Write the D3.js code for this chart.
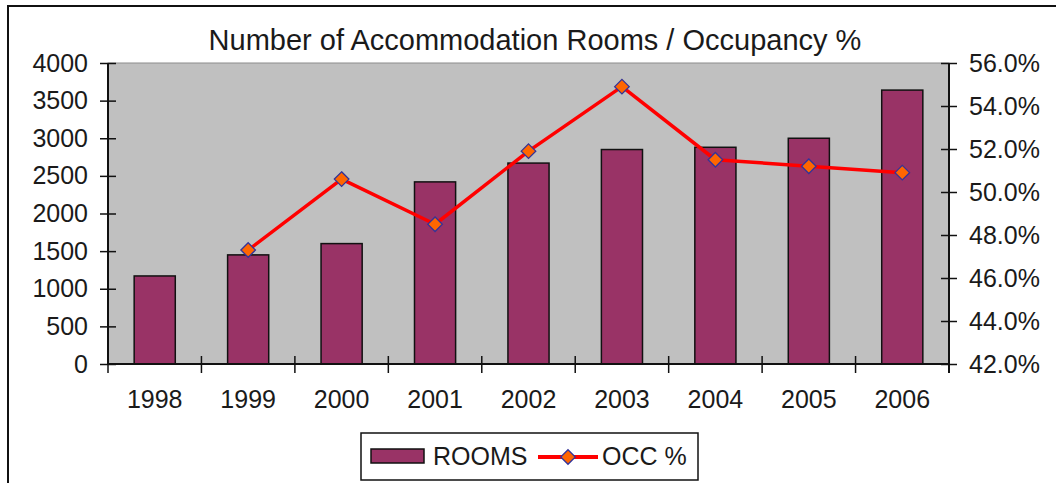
<!DOCTYPE html>
<html>
<head>
<meta charset="utf-8">
<script src="https://cdn.jsdelivr.net/npm/d3@7"></script>
<style>
  body { margin: 0; background: #fff; }
  svg { display: block; font-family: "Liberation Sans", Arial, sans-serif; }
</style>
</head>
<body>
<svg id="chart" width="1056" height="483"></svg>
<script>
// data
var years = ["1998", "1999", "2000", "2001", "2002", "2003", "2004", "2005", "2006"];
var rooms = [1170, 1450, 1600, 2420, 2670, 2850, 2880, 3000, 3640];
var occ = [null, 47.3, 50.6, 48.5, 51.9, 54.9, 51.5, 51.2, 50.9];
var roomTicks = [0, 500, 1000, 1500, 2000, 2500, 3000, 3500, 4000];
var occTicks = [42, 44, 46, 48, 50, 52, 54, 56];

var W = 1056, H = 483;
var plot = { left: 108, right: 949, top: 63, bottom: 364 };

var svg = d3.select('#chart');

// outer chart border (runs off the right/bottom of the picture)
svg.append('rect')
    .attr('x', 8).attr('y', 6)
    .attr('width', W + 10).attr('height', H + 10)
    .style('fill', 'white')
    .style('stroke', '#111')
    .style('stroke-width', 2);

var x = d3.scaleBand()
    .domain(years)
    .range([plot.left, plot.right])
    .paddingInner(0.56)
    .paddingOuter(0.28);

var y = d3.scaleLinear()
    .domain([0, 4000])
    .range([plot.bottom, plot.top]);

var y2 = d3.scaleLinear()
    .domain([42, 56])
    .range([plot.bottom, plot.top]);

// plot area
svg.append('rect')
    .attr('x', plot.left).attr('y', plot.top)
    .attr('width', plot.right - plot.left)
    .attr('height', plot.bottom - plot.top)
    .style('fill', '#c0c0c0')
    .style('stroke', '#8c8c8c')
    .style('stroke-width', 1);

// title
svg.append('text')
    .attr('x', 535).attr('y', 50)
    .attr('text-anchor', 'middle')
    .style('font-size', '29px')
    .style('fill', '#1a1a1a')
    .text('Number of Accommodation Rooms / Occupancy %');

// bars
svg.append('g')
    .selectAll('rect')
    .data(rooms)
    .enter().append('rect')
    .attr('x', (d, i) => x(years[i]))
    .attr('y', d => y(d))
    .attr('width', x.bandwidth())
    .attr('height', d => y(0) - y(d))
    .style('fill', '#993366')
    .style('stroke', '#111')
    .style('stroke-width', 1.5);

// left axis
var leftAxis = svg.append('g')
    .attr('transform', 'translate(' + plot.left + ',0)')
    .call(d3.axisLeft(y).tickValues(roomTicks).tickSize(8).tickPadding(12)
        .tickFormat(d3.format('d')));
leftAxis.selectAll('.tick line').attr('x2', 8).attr('x1', -8);

// right axis
var rightAxis = svg.append('g')
    .attr('transform', 'translate(' + plot.right + ',0)')
    .call(d3.axisRight(y2).tickValues(occTicks).tickSize(8).tickPadding(12)
        .tickFormat(d => d3.format('.1f')(d) + '%'));
rightAxis.selectAll('.tick line').attr('x1', -8).attr('x2', 8);

// bottom axis: labels under bands, ticks at band boundaries
var bottomAxis = svg.append('g')
    .attr('transform', 'translate(0,' + plot.bottom + ')')
    .call(d3.axisBottom(x).tickSize(0).tickPadding(26));
bottomAxis.selectAll('.tick line').remove();
var edges = d3.range(years.length + 1).map(i => plot.left + i * x.step());
bottomAxis.selectAll('line.cat')
    .data(edges)
    .enter().append('line')
    .attr('class', 'cat')
    .attr('x1', d => d).attr('x2', d => d)
    .attr('y1', -8).attr('y2', 9)
    .style('stroke', '#111')
    .style('stroke-width', 1.5);

[leftAxis, rightAxis, bottomAxis].forEach(function(a) {
    a.selectAll('.domain').attr('d', null);
    a.selectAll('.tick line').style('stroke', '#111').style('stroke-width', 1.5);
    a.selectAll('text')
        .style('font-size', '25px')
        .style('font-family', '"Liberation Sans", Arial, sans-serif')
        .style('fill', '#1a1a1a');
});

// axis lines
svg.append('line')
    .attr('x1', plot.left).attr('x2', plot.left)
    .attr('y1', plot.top).attr('y2', plot.bottom)
    .style('stroke', '#111').style('stroke-width', 2);
svg.append('line')
    .attr('x1', plot.right).attr('x2', plot.right)
    .attr('y1', plot.top).attr('y2', plot.bottom + 9)
    .style('stroke', '#111').style('stroke-width', 2);
svg.append('line')
    .attr('x1', plot.left).attr('x2', plot.right)
    .attr('y1', plot.bottom).attr('y2', plot.bottom)
    .style('stroke', '#111').style('stroke-width', 2);

// occupancy line
var cx = (d, i) => x(years[i]) + x.bandwidth() / 2;
var line = d3.line()
    .defined(d => d != null)
    .x(cx)
    .y(d => y2(d));

svg.append('path')
    .datum(occ)
    .attr('d', line)
    .style('fill', 'none')
    .style('stroke', '#ff0000')
    .style('stroke-width', 3.5)
    .style('stroke-linejoin', 'round');

var diamond = d3.symbol().type(d3.symbolDiamond2).size(135);

svg.append('g')
    .selectAll('path')
    .data(occ.map((d, i) => ({ v: d, i: i })).filter(d => d.v != null))
    .enter().append('path')
    .attr('d', diamond)
    .attr('transform', d => 'translate(' + cx(d.v, d.i) + ',' + y2(d.v) + ')')
    .style('fill', '#ff6600')
    .style('stroke', '#333399')
    .style('stroke-width', 1.3);

// legend
var legend = svg.append('g');
legend.append('rect')
    .attr('x', 361).attr('y', 433)
    .attr('width', 337).attr('height', 47)
    .style('fill', 'white')
    .style('stroke', '#111')
    .style('stroke-width', 1.5);
legend.append('rect')
    .attr('x', 371).attr('y', 449)
    .attr('width', 53).attr('height', 14)
    .style('fill', '#993366')
    .style('stroke', '#111')
    .style('stroke-width', 1.5);
legend.append('text')
    .attr('x', 433).attr('y', 465)
    .style('font-size', '25px')
    .style('fill', '#1a1a1a')
    .text('ROOMS');
legend.append('line')
    .attr('x1', 538).attr('x2', 598)
    .attr('y1', 457).attr('y2', 457)
    .style('stroke', '#ff0000')
    .style('stroke-width', 4);
legend.append('path')
    .attr('d', diamond)
    .attr('transform', 'translate(568,457)')
    .style('fill', '#ff6600')
    .style('stroke', '#333399')
    .style('stroke-width', 1.3);
legend.append('text')
    .attr('x', 602).attr('y', 465)
    .style('font-size', '25px')
    .style('fill', '#1a1a1a')
    .text('OCC %');
</script>
</body>
</html>
